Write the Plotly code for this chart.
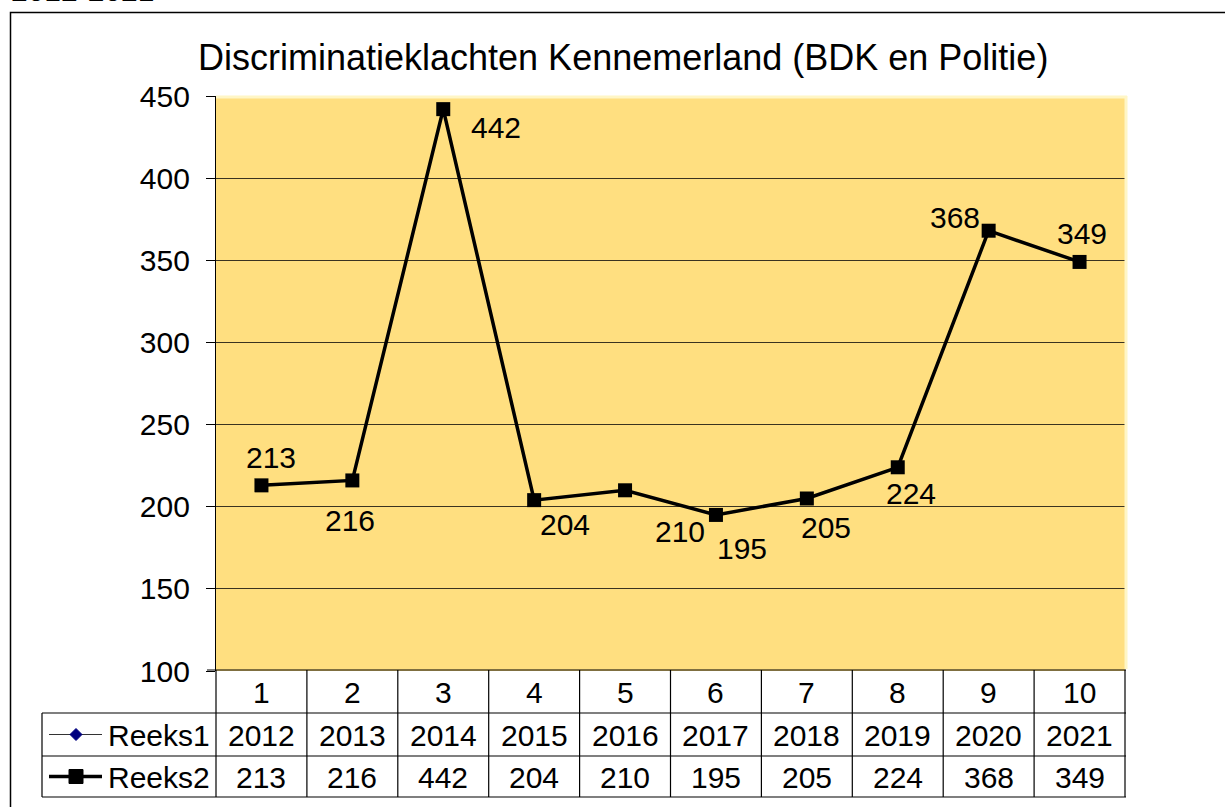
import plotly.graph_objects as go

# ---- data ----
categories = [1, 2, 3, 4, 5, 6, 7, 8, 9, 10]
years = [2012, 2013, 2014, 2015, 2016, 2017, 2018, 2019, 2020, 2021]      # Reeks1
complaints = [213, 216, 442, 204, 210, 195, 205, 224, 368, 349]          # Reeks2
series_names = ["Reeks1", "Reeks2"]
y_ticks = [100, 150, 200, 250, 300, 350, 400, 450]
title_text = "Discriminatieklachten Kennemerland (BDK en Politie)"
top_text = "2012-2021"

# label offsets (pixels) per point, as placed in the original chart
label_dx = [10, -2, 53, 31, 55, 26, 19, 13, -34, 2]
label_dy = [28, -40, -18, -24, -41, -34, -29, -26, 13, 28]

# ---- layout geometry (pixels) ----
W, H = 1225, 807
L, T = 216, 96
PW, PH = 909, 575
FONT = "Liberation Sans, Arial, sans-serif"
FS = 30


def px(x):
    return (x - L) / PW


def py(y):
    return (T + PH - y) / PH


fig = go.Figure()

# Reeks1 (years, falls outside the visible value range, as in the original)
fig.add_trace(go.Scatter(
    x=categories, y=years, name=series_names[0], mode="lines+markers",
    line=dict(color="#000080", width=1), marker=dict(symbol="diamond", size=10, color="#000080"),
    cliponaxis=True, showlegend=False))

# Reeks2
fig.add_trace(go.Scatter(
    x=categories, y=complaints, name=series_names[1], mode="lines+markers",
    line=dict(color="black", width=3.5), marker=dict(symbol="square", size=14, color="black"),
    showlegend=False))

annotations = []
shapes = []

# data labels
for c, v, dx, dy in zip(categories, complaints, label_dx, label_dy):
    annotations.append(dict(x=c, y=v, xref="x", yref="y", text=str(v), showarrow=False,
                            xshift=dx, yshift=dy, font=dict(family=FONT, size=FS, color="black")))

# title
annotations.append(dict(x=px(623), y=py(57), xref="paper", yref="paper", text=title_text,
                        showarrow=False, xanchor="center", yanchor="middle",
                        font=dict(family=FONT, size=36, color="black")))
# partially cut text at top
annotations.append(dict(x=px(9), y=py(9), xref="paper", yref="paper", text=top_text,
                        showarrow=False, xanchor="left", yanchor="bottom",
                        font=dict(family=FONT, size=FS, color="black")))

# ---- data table ----
row_tops = [670, 713, 756, 797]
col_w = PW / len(categories)
line_style = dict(color="black", width=1.2)

# horizontal lines
shapes.append(dict(type="line", xref="paper", yref="paper", x0=px(207), x1=px(1126),
                   y0=py(670), y1=py(670), line=line_style))
for yy in row_tops[1:]:
    shapes.append(dict(type="line", xref="paper", yref="paper", x0=px(42), x1=px(1126),
                       y0=py(yy), y1=py(yy), line=line_style))
# vertical lines
for k in range(len(categories) + 1):
    xx = L + k * col_w
    shapes.append(dict(type="line", xref="paper", yref="paper", x0=px(xx), x1=px(xx),
                       y0=py(670), y1=py(797), line=line_style))
shapes.append(dict(type="line", xref="paper", yref="paper", x0=px(42), x1=px(42),
                   y0=py(713), y1=py(797), line=line_style))

row_centers = [(row_tops[i] + row_tops[i + 1]) / 2 + 1 for i in range(3)]
for i, c in enumerate(categories):
    cx = px(L + (i + 0.5) * col_w)
    for r, val in enumerate([c, years[i], complaints[i]]):
        annotations.append(dict(x=cx, y=py(row_centers[r]), xref="paper", yref="paper",
                                text=str(val), showarrow=False, xanchor="center", yanchor="middle",
                                font=dict(family=FONT, size=FS, color="black")))

# legend keys in table
for r, (name, col, lw) in enumerate([(series_names[0], "#333333", 1.2),
                                     (series_names[1], "black", 3.5)]):
    yc = row_centers[r + 1] - 1
    shapes.append(dict(type="line", xref="paper", yref="paper", x0=px(49), x1=px(102),
                       y0=py(yc), y1=py(yc), line=dict(color=col, width=lw)))
    annotations.append(dict(x=px(106), y=py(yc + 1), xref="paper", yref="paper", text=name,
                            showarrow=False, xanchor="left", yanchor="middle",
                            font=dict(family=FONT, size=FS, color="black")))
    mx = 76
    if r == 0:
        d = 6
        path = (f"M {px(mx)},{py(yc - d)} L {px(mx + d)},{py(yc)} "
                f"L {px(mx)},{py(yc + d)} L {px(mx - d)},{py(yc)} Z")
        shapes.append(dict(type="path", xref="paper", yref="paper", path=path,
                           fillcolor="#000080", line=dict(color="#000080", width=1)))
    else:
        d = 7
        shapes.append(dict(type="rect", xref="paper", yref="paper", x0=px(mx - d), x1=px(mx + d),
                           y0=py(yc - d), y1=py(yc + d), fillcolor="black",
                           line=dict(color="black", width=1)))

# pale border at top and right of plot area
pale = dict(color="#FFF6C6", width=3)
shapes.append(dict(type="line", xref="paper", yref="paper", x0=0, x1=px(1127), y0=py(97), y1=py(97),
                   line=pale, layer="above"))
shapes.append(dict(type="line", xref="paper", yref="paper", x0=px(1126), x1=px(1126), y0=py(96),
                   y1=py(669), line=pale, layer="above"))

# outer chart border
shapes.append(dict(type="rect", xref="paper", yref="paper", x0=px(10.5), x1=px(1240),
                   y0=py(12.5), y1=py(830), line=dict(color="black", width=1.5)))

fig.update_layout(
    width=W, height=H,
    margin=dict(l=L, r=W - L - PW, t=T, b=H - T - PH, pad=0),
    paper_bgcolor="white",
    plot_bgcolor="#FFDF80",
    font=dict(family=FONT, size=FS, color="black"),
    xaxis=dict(range=[0.5, 10.5], showgrid=False, showticklabels=False, ticks="",
               zeroline=False, showline=False, fixedrange=True),
    yaxis=dict(range=[100, 450], tickvals=y_ticks, ticks="outside", ticklen=9, tickwidth=1,
               tickcolor="black", showline=True, linecolor="black", linewidth=1.2,
               showgrid=True, gridcolor="#3a3320", gridwidth=1, zeroline=False,
               ticklabelstandoff=10, tickfont=dict(family=FONT, size=FS, color="black")),
    annotations=annotations,
    shapes=shapes,
    showlegend=False,
)

fig.write_html("out.html", config={"displayModeBar": False},
               post_script="document.body.style.margin='0px';")
